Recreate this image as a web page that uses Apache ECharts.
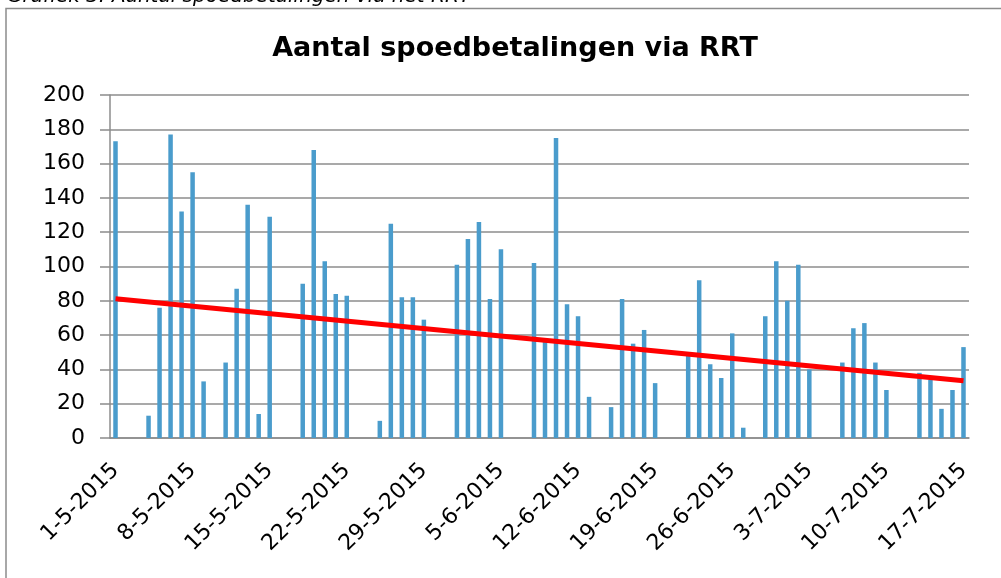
<!DOCTYPE html>
<html>
<head>
<meta charset="utf-8">
<script src="https://cdn.jsdelivr.net/npm/echarts@6/dist/echarts.min.js"></script>
<style>
  html, body { margin: 0; padding: 0; background: #fff; }
  #main { width: 1001px; height: 578px; }
</style>
</head>
<body>
<div id="main"></div>
<script>
var myChart = echarts.init(document.getElementById("main"));

// dagen 1-5-2015 t/m 17-7-2015
var dates = [
  "1-5-2015", "2-5-2015", "3-5-2015", "4-5-2015", "5-5-2015", "6-5-2015", "7-5-2015",
  "8-5-2015", "9-5-2015", "10-5-2015", "11-5-2015", "12-5-2015", "13-5-2015", "14-5-2015",
  "15-5-2015", "16-5-2015", "17-5-2015", "18-5-2015", "19-5-2015", "20-5-2015", "21-5-2015",
  "22-5-2015", "23-5-2015", "24-5-2015", "25-5-2015", "26-5-2015", "27-5-2015", "28-5-2015",
  "29-5-2015", "30-5-2015", "31-5-2015", "1-6-2015", "2-6-2015", "3-6-2015", "4-6-2015",
  "5-6-2015", "6-6-2015", "7-6-2015", "8-6-2015", "9-6-2015", "10-6-2015", "11-6-2015",
  "12-6-2015", "13-6-2015", "14-6-2015", "15-6-2015", "16-6-2015", "17-6-2015", "18-6-2015",
  "19-6-2015", "20-6-2015", "21-6-2015", "22-6-2015", "23-6-2015", "24-6-2015", "25-6-2015",
  "26-6-2015", "27-6-2015", "28-6-2015", "29-6-2015", "30-6-2015", "1-7-2015", "2-7-2015",
  "3-7-2015", "4-7-2015", "5-7-2015", "6-7-2015", "7-7-2015", "8-7-2015", "9-7-2015",
  "10-7-2015", "11-7-2015", "12-7-2015", "13-7-2015", "14-7-2015", "15-7-2015", "16-7-2015",
  "17-7-2015"
];

// aantal spoedbetalingen per dag
var aantallen = [
  173, 0, 0, 13, 76, 177, 132,
  155, 33, 0, 44, 87, 136, 14,
  129, 0, 0, 90, 168, 103, 84,
  83, 0, 0, 10, 125, 82, 82,
  69, 0, 0, 101, 116, 126, 81,
  110, 0, 0, 102, 57, 175, 78,
  71, 24, 0, 18, 81, 55, 63,
  32, 0, 0, 50, 92, 43, 35,
  61, 6, 0, 71, 103, 80, 101,
  40, 0, 0, 44, 64, 67, 44,
  28, 0, 0, 38, 34, 17, 28,
  53
];

// lineaire trendlijn: begin- en eindwaarde
var trendBegin = 81.2;
var trendEind = 33.4;

var yTicks = [0, 20, 40, 60, 80, 100, 120, 140, 160, 180, 200];

var trend = dates.map(function (d, i) {
  if (i === 0) return trendBegin;
  if (i === dates.length - 1) return trendEind;
  return null;
});

var font = "DejaVu Sans, Verdana, sans-serif";

var option = {
  animation: false,
  title: {
    text: "Aantal spoedbetalingen via RRT",
    left: 510,
    top: 30,
    textAlign: "center",
    textStyle: {
      fontFamily: font,
      fontSize: 27,
      fontWeight: "bold",
      color: "#000",
    },
  },
  graphic: [
    {
      type: "text",
      left: 7,
      top: -13,
      style: {
        text: "Grafiek 3: Aantal spoedbetalingen via het RRT",
        fontFamily: font,
        fontStyle: "italic",
        fontSize: 20,
        fill: "#000",
      },
    },
    {
      type: "rect",
      shape: { x: 6, y: 8.5, width: 1200, height: 800 },
      style: { fill: "none", stroke: "#8c8c8c", lineWidth: 1.5 },
    },
  ],
  grid: {
    left: 110,
    right: 32,
    top: 95,
    bottom: 140,
  },
  xAxis: {
    type: "category",
    data: dates,
    boundaryGap: true,
    axisLine: { lineStyle: { color: "#8c8c8c", width: 1.5 } },
    axisTick: {
      length: 7,
      lineStyle: { color: "#8c8c8c", width: 1.5 },
      interval: function (index) {
        return index % 7 === 0;
      },
    },
    axisLabel: {
      rotate: 45,
      margin: 29,
      fontFamily: font,
      fontSize: 22,
      color: "#000",
      interval: function (index) {
        return index % 7 === 0;
      },
    },
  },
  yAxis: {
    type: "value",
    min: yTicks[0],
    max: yTicks[yTicks.length - 1],
    interval: 20,
    axisLine: { show: true, lineStyle: { color: "#8c8c8c", width: 1.5 } },
    axisTick: {
      show: true,
      inside: false,
      length: 10,
      lineStyle: { color: "#8c8c8c", width: 1.5 },
    },
    axisLabel: {
      margin: 25,
      fontFamily: font,
      fontSize: 22,
      color: "#000",
    },
    splitLine: { lineStyle: { color: "#8c8c8c", width: 1.5 } },
  },
  series: [
    {
      name: "Aantal",
      type: "bar",
      data: aantallen,
      barWidth: 4.5,
      itemStyle: { color: "#4a9ccc" },
    },
    {
      name: "Trend",
      type: "line",
      data: trend,
      connectNulls: true,
      showSymbol: false,
      symbol: "none",
      lineStyle: { color: "#ff0000", width: 5 },
      z: 5,
    },
  ],
};

myChart.setOption(option);
</script>
</body>
</html>
